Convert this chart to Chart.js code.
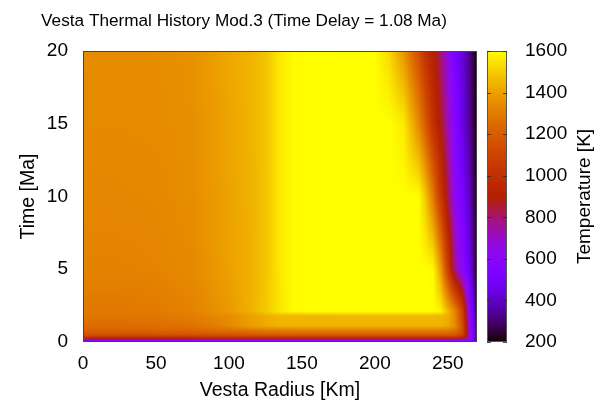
<!DOCTYPE html>
<html>
<head>
<meta charset="utf-8">
<script src="https://cdn.jsdelivr.net/npm/chart.js@4.4.0/dist/chart.umd.min.js"></script>
<style>
  html, body { margin: 0; padding: 0; background: #fff; }
</style>
</head>
<body>
<canvas id="heat" width="600" height="402"></canvas>
<script>
// grid: radius [km] across, time [Ma] up
const radius = [0, 25, 50, 75, 100, 115, 125, 135, 145, 200, 210, 220, 230, 235, 240, 245, 250, 255, 260, 265, 268, 270];
const time = [0, 0.12, 0.3, 0.5, 0.8, 1.1, 1.8, 2.1, 5, 10, 15, 20];
// temperature [K], one row per time value, one column per radius value
const temperature = [
  [480, 480, 480, 480, 480, 480, 480, 480, 480, 480, 480, 480, 480, 480, 480, 480, 480, 480, 480, 470, 400, 300],
  [580, 580, 580, 580, 580, 580, 580, 580, 580, 580, 580, 580, 580, 580, 580, 580, 580, 580, 580, 560, 450, 300],
  [1000, 1000, 1000, 1000, 1000, 1000, 1000, 1000, 1000, 1000, 1000, 1000, 1000, 1000, 1000, 1000, 1000, 1000, 960, 700, 480, 300],
  [1150, 1150, 1152, 1158, 1170, 1180, 1190, 1195, 1200, 1200, 1200, 1200, 1200, 1200, 1200, 1200, 1200, 1180, 1100, 680, 480, 300],
  [1220, 1220, 1225, 1235, 1260, 1280, 1295, 1305, 1310, 1310, 1310, 1310, 1310, 1310, 1310, 1310, 1300, 1270, 1150, 680, 470, 300],
  [1250, 1250, 1255, 1270, 1330, 1390, 1420, 1440, 1445, 1445, 1445, 1445, 1445, 1445, 1445, 1440, 1420, 1350, 1150, 650, 450, 280],
  [1280, 1282, 1287, 1305, 1350, 1400, 1430, 1450, 1455, 1458, 1458, 1458, 1458, 1458, 1458, 1455, 1430, 1330, 1100, 620, 430, 260],
  [1290, 1290, 1295, 1320, 1380, 1440, 1490, 1555, 1595, 1600, 1600, 1600, 1600, 1600, 1600, 1580, 1460, 1330, 1100, 600, 410, 240],
  [1320, 1320, 1325, 1340, 1400, 1440, 1480, 1560, 1595, 1600, 1600, 1600, 1600, 1600, 1590, 1400, 1080, 760, 600, 450, 320, 200],
  [1330, 1332, 1335, 1350, 1405, 1440, 1480, 1560, 1595, 1600, 1600, 1600, 1600, 1480, 1290, 1050, 830, 620, 520, 380, 280, 200],
  [1340, 1340, 1343, 1355, 1410, 1445, 1480, 1560, 1595, 1600, 1600, 1560, 1340, 1180, 1000, 880, 730, 570, 450, 330, 260, 200],
  [1345, 1345, 1348, 1360, 1415, 1445, 1480, 1560, 1595, 1600, 1525, 1365, 1145, 1000, 915, 800, 650, 520, 430, 320, 250, 200]
];
const xTicks = [0, 50, 100, 150, 200, 250];
const yTicks = [0, 5, 10, 15, 20];
const cbTicks = [200, 400, 600, 800, 1000, 1200, 1400, 1600];

const FONT = 'Liberation Sans, Arial, sans-serif';
Chart.defaults.font.family = FONT;
Chart.defaults.font.size = 19;
Chart.defaults.color = '#000';

// gnuplot default palette (rgbformulae 7,5,15)
function palette(T) {
  let x = (T - 200) / 1400;
  x = Math.max(0, Math.min(1, x));
  return [
    Math.round(255 * Math.sqrt(x)),
    Math.round(255 * x * x * x),
    Math.round(255 * Math.max(0, Math.sin(2 * Math.PI * x)))
  ];
}

const heatmap = {
  id: 'heatmap',
  beforeDatasetsDraw(chart) {
    const { ctx, chartArea: a, scales } = chart;
    const xs = scales.x, ys = scales.y;
    const w = Math.round(a.right - a.left), h = Math.round(a.bottom - a.top);
    const off = document.createElement('canvas');
    off.width = w; off.height = h;
    const img = off.getContext('2d').createImageData(w, h);

    for (let j = 0; j < time.length - 1; j++) {
      const y0 = ys.getPixelForValue(time[j]) - a.top;
      const y1 = ys.getPixelForValue(time[j + 1]) - a.top;
      for (let i = 0; i < radius.length - 1; i++) {
        const x0 = xs.getPixelForValue(radius[i]) - a.left;
        const x1 = xs.getPixelForValue(radius[i + 1]) - a.left;
        const t00 = temperature[j][i], t10 = temperature[j][i + 1];
        const t01 = temperature[j + 1][i], t11 = temperature[j + 1][i + 1];
        for (let py = Math.max(0, Math.ceil(y1 - 0.5)); py < Math.min(h, Math.ceil(y0 - 0.5)); py++) {
          const fy = (y0 - (py + 0.5)) / (y0 - y1);
          for (let px = Math.max(0, Math.ceil(x0 - 0.5)); px < Math.min(w, Math.ceil(x1 - 0.5)); px++) {
            const fx = (px + 0.5 - x0) / (x1 - x0);
            const T = t00 * (1 - fx) * (1 - fy) + t10 * fx * (1 - fy) + t01 * (1 - fx) * fy + t11 * fx * fy;
            const c = palette(T);
            const k = (py * w + px) * 4;
            img.data[k] = c[0]; img.data[k + 1] = c[1]; img.data[k + 2] = c[2]; img.data[k + 3] = 255;
          }
        }
      }
    }
    off.getContext('2d').putImageData(img, 0, 0);
    ctx.drawImage(off, a.left, a.top);

    // plot border
    ctx.save();
    ctx.strokeStyle = '#444';
    ctx.lineWidth = 1;
    ctx.strokeRect(a.left + 0.5, a.top + 0.5, w - 1, h - 1);

    // colour box, drawn along the cb scale
    const cb = scales.cb;
    const bx = a.right + 10, bw = 20;
    const top = cb.getPixelForValue(1600), bot = cb.getPixelForValue(200);
    for (let py = Math.round(top); py < Math.round(bot); py++) {
      const c = palette(cb.getValueForPixel(py + 0.5));
      ctx.fillStyle = 'rgb(' + c.join(',') + ')';
      ctx.fillRect(bx, py, bw, 1);
    }
    ctx.strokeStyle = '#555';
    ctx.strokeRect(bx + 0.5, top + 0.5, bw - 1, bot - top - 1);
    ctx.strokeStyle = 'rgba(40,40,40,0.8)';
    cbTicks.forEach(v => {
      const yy = Math.round(cb.getPixelForValue(v)) + 0.5;
      ctx.beginPath();
      ctx.moveTo(bx, yy); ctx.lineTo(bx + 4, yy);
      ctx.moveTo(bx + bw - 4, yy); ctx.lineTo(bx + bw, yy);
      ctx.stroke();
    });

    // colour box label, reads bottom to top like the original
    ctx.fillStyle = '#000';
    ctx.font = '19px ' + FONT;
    ctx.textAlign = 'center';
    ctx.textBaseline = 'middle';
    ctx.translate(585, (a.top + a.bottom) / 2);
    ctx.rotate(-Math.PI / 2);
    ctx.fillText('Temperature [K]', 0, 0);
    ctx.restore();

    // title
    ctx.save();
    ctx.fillStyle = '#000';
    ctx.font = '17.2px ' + FONT;
    ctx.textAlign = 'center';
    ctx.textBaseline = 'middle';
    ctx.fillText('Vesta Thermal History Mod.3 (Time Delay = 1.08 Ma)', 244, 21);
    ctx.restore();
  }
};

new Chart(document.getElementById('heat'), {
  type: 'scatter',
  data: { datasets: [{ data: [], pointRadius: 0 }] },
  options: {
    responsive: false,
    animation: false,
    layout: { padding: { top: 51, left: 0, right: 0, bottom: 0 } },
    plugins: { legend: { display: false }, title: { display: false }, tooltip: { enabled: false } },
    scales: {
      x: {
        type: 'linear', position: 'bottom', min: 0, max: 270,
        afterBuildTicks: s => { s.ticks = xTicks.map(v => ({ value: v })); },
        afterFit: s => { s.height = 60; },
        ticks: { padding: 10, maxRotation: 0 },
        grid: { display: false, drawTicks: false },
        border: { display: false },
        title: { display: true, text: 'Vesta Radius [Km]', font: { size: 19.5 }, padding: { top: 0, bottom: 0 } }
      },
      y: {
        type: 'linear', position: 'left', min: 0, max: 20,
        afterBuildTicks: s => { s.ticks = yTicks.map(v => ({ value: v })); },
        afterFit: s => { s.width = 83; },
        ticks: { padding: 15 },
        grid: { display: false, drawTicks: false },
        border: { display: false },
        title: { display: true, text: 'Time [Ma]', font: { size: 19.5 }, padding: { top: 17, bottom: 0 } }
      },
      cb: {
        type: 'linear', axis: 'y', position: 'right', min: 200, max: 1600,
        afterBuildTicks: s => { s.ticks = cbTicks.map(v => ({ value: v })); },
        afterFit: s => { s.width = 123; },
        ticks: { padding: 4, callback: v => String(v) },
        grid: { display: false, drawTicks: true, tickLength: 44 },
        border: { display: false }
      }
    }
  },
  plugins: [heatmap]
});
</script>
</body>
</html>
